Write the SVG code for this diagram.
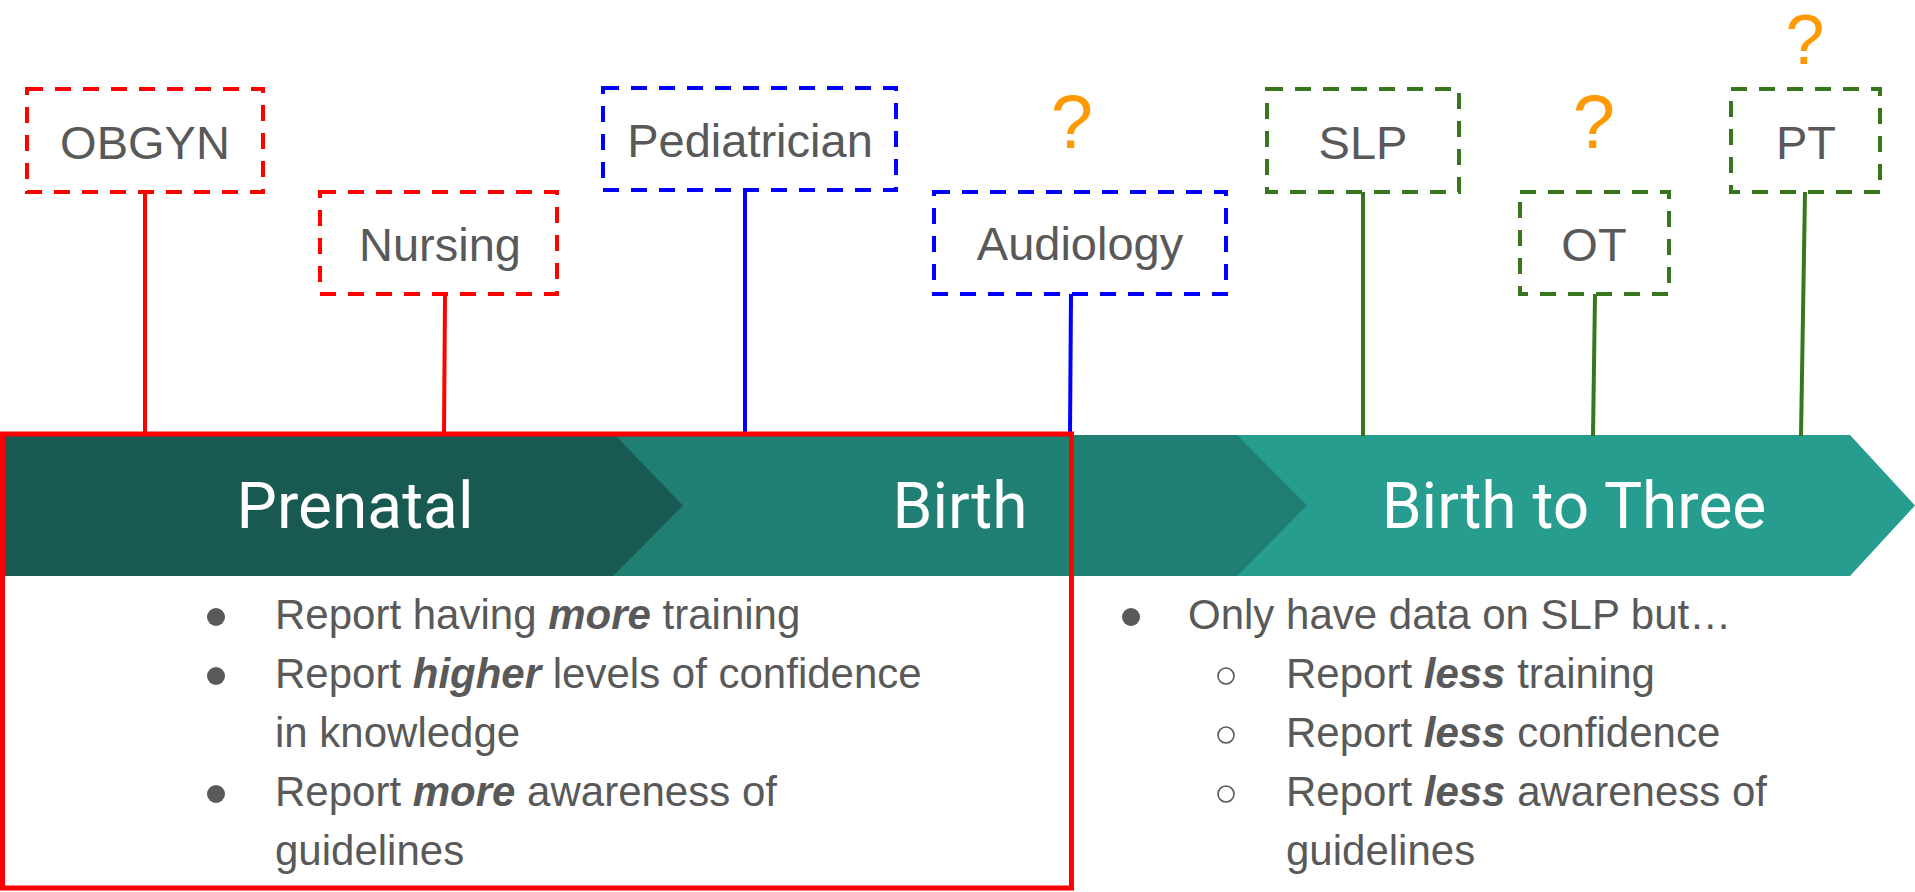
<svg xmlns="http://www.w3.org/2000/svg" width="1915" height="892" viewBox="0 0 1915 892">
<style>
.box{fill:none;stroke-width:4;stroke-dasharray:16 12}
.red{stroke:#FF0000}
.blue{stroke:#0000FF}
.green{stroke:#38761D}
.lbl{font-family:"Liberation Sans",Arial,sans-serif;font-size:47px;fill:#595959;text-anchor:middle}
.q{font-family:"Liberation Sans",Arial,sans-serif;font-size:76px;fill:#FF9900;text-anchor:middle}
.seg{font-family:Roboto,"Liberation Sans",sans-serif;font-size:64px;fill:#FFFFFF;text-anchor:middle}
.body{font-family:"Liberation Sans",Arial,sans-serif;font-size:42px;fill:#595959}
.bi{font-weight:bold;font-style:italic}
.conn{stroke-width:4;fill:none}
.dot{fill:#595959}
.ring{fill:none;stroke:#595959;stroke-width:1.6}
</style>

<g id="timeline">
  <polygon points="600,435 1850,435 1915,505.5 1850,576 600,576" fill="#269D8F"/>
  <polygon points="0,435 1237,435 1307,505.5 1237,576 0,576" fill="#1F7F73"/>
  <polygon points="0,435 615,435 683,505.5 613,576 0,576" fill="#185A52"/>
  <text class="seg" x="355" y="528">Prenatal</text>
  <text class="seg" x="960" y="528">Birth</text>
  <text class="seg" x="1574" y="528">Birth to Three</text>
</g>

<g id="connectors">
  <line class="conn red" x1="145" y1="192" x2="145" y2="434"/>
  <line class="conn red" x1="445" y1="294" x2="444" y2="434"/>
  <line class="conn blue" x1="745" y1="190" x2="745" y2="434"/>
  <line class="conn blue" x1="1071" y1="294" x2="1070" y2="434"/>
  <line class="conn green" x1="1363" y1="192" x2="1363" y2="436"/>
  <line class="conn green" x1="1595" y1="294" x2="1593" y2="436"/>
  <line class="conn green" x1="1805" y1="192" x2="1801" y2="436"/>
</g>

<g id="node-obgyn">
  <rect class="box red" x="27" y="89" width="236" height="103"/>
  <text class="lbl" x="145" y="159">OBGYN</text>
</g>
<g id="node-nursing">
  <rect class="box red" x="320" y="192" width="237" height="102"/>
  <text class="lbl" x="440" y="261">Nursing</text>
</g>
<g id="node-pediatrician">
  <rect class="box blue" x="603" y="88" width="293" height="102"/>
  <text class="lbl" x="750" y="157">Pediatrician</text>
</g>
<g id="node-audiology">
  <rect class="box blue" x="934" y="192" width="292" height="102"/>
  <text class="lbl" x="1080" y="260">Audiology</text>
  <text class="q" x="1072" y="148">?</text>
</g>
<g id="node-slp">
  <rect class="box green" x="1267" y="89" width="192" height="103"/>
  <text class="lbl" x="1363" y="159">SLP</text>
</g>
<g id="node-ot">
  <rect class="box green" x="1520" y="192" width="149" height="102"/>
  <text class="lbl" x="1594" y="261">OT</text>
  <text class="q" x="1594" y="148">?</text>
</g>
<g id="node-pt">
  <rect class="box green" x="1731" y="89" width="149" height="103"/>
  <text class="lbl" x="1806" y="159">PT</text>
  <text class="q" x="1805" y="63.5" style="font-size:70px">?</text>
</g>

<g id="highlight">
  <rect x="2.5" y="434" width="1069" height="454" fill="none" stroke="#FF0000" stroke-width="5"/>
</g>

<g id="left-notes">
  <circle class="dot" cx="216" cy="617" r="9"/>
  <circle class="dot" cx="216" cy="676" r="9"/>
  <circle class="dot" cx="216" cy="794" r="9"/>
  <text class="body" x="275" y="629">Report having <tspan class="bi">more</tspan> training</text>
  <text class="body" x="275" y="688">Report <tspan class="bi">higher</tspan> levels of confidence</text>
  <text class="body" x="275" y="747">in knowledge</text>
  <text class="body" x="275" y="806">Report <tspan class="bi">more</tspan> awareness of</text>
  <text class="body" x="275" y="865">guidelines</text>
</g>

<g id="right-notes">
  <circle class="dot" cx="1131" cy="617" r="9"/>
  <circle class="ring" cx="1226" cy="676" r="8"/>
  <circle class="ring" cx="1226" cy="735" r="8"/>
  <circle class="ring" cx="1226" cy="794" r="8"/>
  <text class="body" x="1188" y="629">Only have data on SLP but…</text>
  <text class="body" x="1286" y="688">Report <tspan class="bi">less</tspan> training</text>
  <text class="body" x="1286" y="747">Report <tspan class="bi">less</tspan> confidence</text>
  <text class="body" x="1286" y="806">Report <tspan class="bi">less</tspan> awareness of</text>
  <text class="body" x="1286" y="865">guidelines</text>
</g>
</svg>
